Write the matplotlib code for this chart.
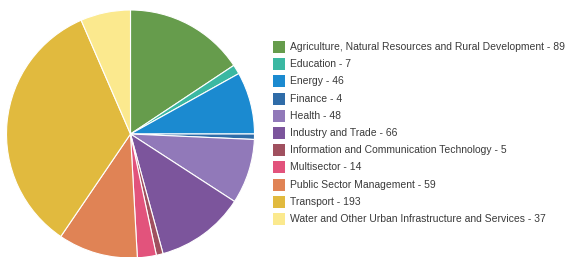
"""Pie of project counts by sector."""
import matplotlib
matplotlib.use('Agg')

import matplotlib.pyplot as plt
from matplotlib.patches import Rectangle

sectors = [
    'Agriculture, Natural Resources and Rural Development',
    'Education',
    'Energy',
    'Finance',
    'Health',
    'Industry and Trade',
    'Information and Communication Technology',
    'Multisector',
    'Public Sector Management',
    'Transport',
    'Water and Other Urban Infrastructure and Services',
]
counts = [89, 7, 46, 4, 48, 66, 5, 14, 59, 193, 37]
colors = [
    '#669c4c', '#3bb8a2', '#1b8ad0', '#2f6ca8', '#9179b9', '#7c559c',
    '#a0505f', '#e2537c', '#e08355', '#e1ba3e', '#fbe98e',
]

W, H = 568, 257

fig = plt.figure(figsize=(W / 100, H / 100), dpi=100)
fig.patch.set_facecolor('white')

# pie placed in pixel units: centre (130.5, 134), radius 124
cx, cy, r = 130.5, 134, 124
ax = fig.add_axes([(cx - r) / W, (H - cy - r) / H, 2 * r / W, 2 * r / H])
ax.pie(
    counts,
    colors=colors,
    startangle=90,
    counterclock=False,
    radius=1,
    wedgeprops=dict(edgecolor='white', linewidth=0.8),
)
ax.set_xlim(-1, 1)
ax.set_ylim(-1, 1)
ax.set_aspect('equal')
ax.axis('off')

# legend
x0, y0, step, sq = 273, 47, 17.2, 12
for i, (name, n, c) in enumerate(zip(sectors, counts, colors)):
    y = y0 + i * step
    fig.patches.append(Rectangle(
        (x0 / W, (H - y - sq / 2) / H), sq / W, sq / H,
        transform=fig.transFigure, facecolor=c, edgecolor='none',
    ))
    fig.text(
        290 / W, (H - y) / H, f'{name} - {n}',
        ha='left', va='center', fontsize=7.45, color='#3a3a3a',
        family='Liberation Sans',
    )

fig.savefig('out.png', dpi=100)
plt.close(fig)
